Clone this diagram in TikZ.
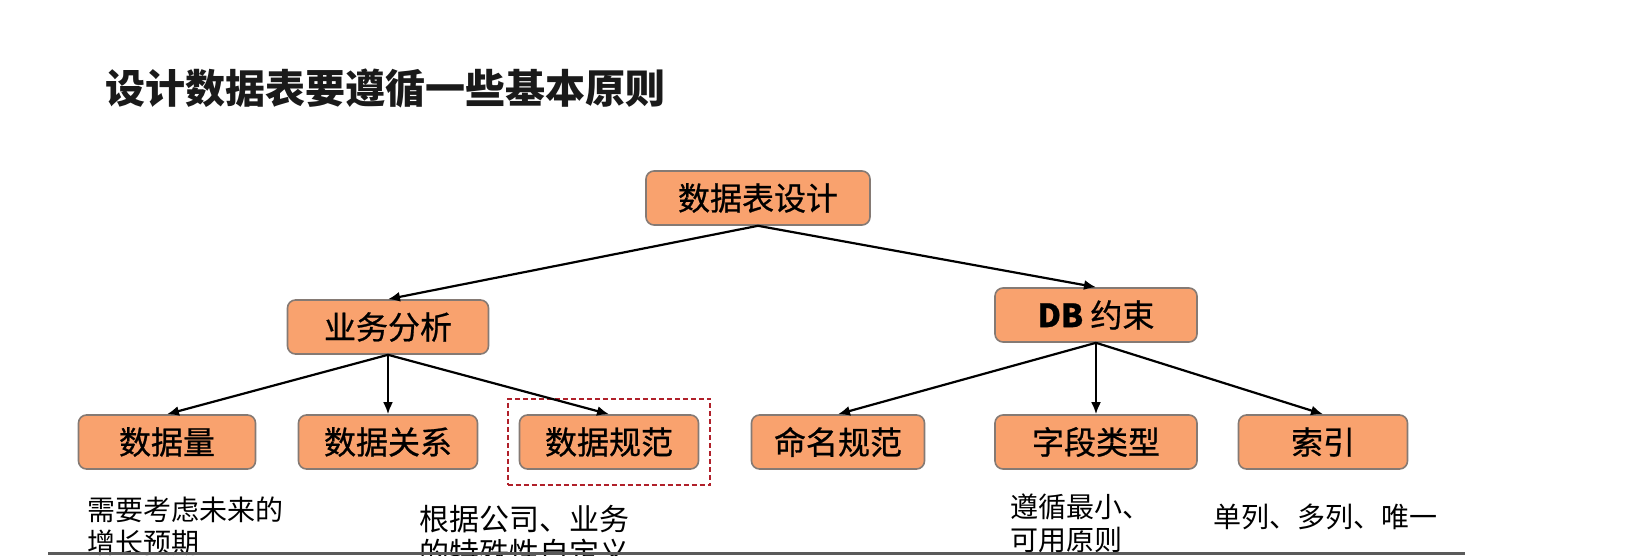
\documentclass[tikz,border=0pt]{standalone}
\usepackage{fontspec}
\setmainfont{Noto Sans CJK SC}
\newfontfamily\boxfont[FakeBold=0.7]{Noto Sans CJK SC}
\usepackage{xcolor}
\usetikzlibrary{arrows.meta,positioning,fit}
\definecolor{cBox}{HTML}{F9A26E}
\definecolor{cEdge}{HTML}{857A74}
\definecolor{cMark}{HTML}{B0202A}
\definecolor{cRule}{HTML}{5A5A5A}
\definecolor{cInk}{HTML}{1A1A1A}
\tikzset{
  box/.style    = {rectangle, rounded corners=8pt, draw=cEdge, fill=cBox, line width=1.6pt,
                   minimum height=54pt, minimum width=#1, inner sep=0pt,
                   font=\boxfont\fontsize{32}{36}\selectfont, text=black},
  box/.default  = 180pt,
  ar/.style     = {-{Latex[length=12pt,width=10pt]}, draw=black, line width=2.2pt},
  note/.style   = {anchor=north west, align=left, inner sep=0pt, text=black,
                   font=\fontsize{28}{33}\selectfont},
  hilite/.style = {draw=cMark, dash pattern=on 5pt off 3pt, line width=2pt,
                   inner xsep=11pt, inner ysep=15.5pt},
}

\begin{document}
\begin{tikzpicture}[x=1pt, y=-1pt]
  \useasboundingbox (0,0) rectangle (1632,556);
  \node[anchor=west, text=cInk, font=\fontsize{40}{44}\selectfont\bfseries] (title) at (102,88) {设计数据表要遵循一些基本原则};

  \node[box=224pt] (root) at (758,198) {数据表设计};
  \node[box=201pt] (biz) at (388,327) {业务分析};
  \node[box=202pt] (db) at (1096,315) {\textbf{DB} 约束};
  \node[box=177pt] (vol) at (167,442) {数据量};
  \node[box=179pt] (rel) at (388,442) {数据关系};
  \node[box=179pt] (spec) at (609,442) {数据规范};
  \node[box=173pt] (name) at (838,442) {命名规范};
  \node[box=202pt] (type) at (1096,442) {字段类型};
  \node[box=169pt] (idx) at (1323,442) {索引};
  \node[hilite, fit=(spec)] (focus) {};

  \draw[ar] (root.south) -- (biz.north);
  \draw[ar] (root.south) -- (db.north);
  \draw[ar] (biz.south) -- (vol.north);
  \draw[ar] (biz.south) -- (rel.north);
  \draw[ar] (biz.south) -- (spec.north);
  \draw[ar] (db.south) -- (name.north);
  \draw[ar] (db.south) -- (type.north);
  \draw[ar] (db.south) -- (idx.north);

  \node[note] (volnote) at (87,497) {需要考虑未来的\\增长预期};
  \node[note, font=\fontsize{30}{34}\selectfont] (specnote) at (419,505) {根据公司、业务\\的特殊性自定义};
  \node[note] (typenote) at (1010,494) {遵循最小、\\可用原则};
  \node[note] (idxnote) at (1213,504) {单列、多列、唯一};

  \draw[cRule, line width=3pt] (48,553.5) -- (1465,553.5);
\end{tikzpicture}
\end{document}
